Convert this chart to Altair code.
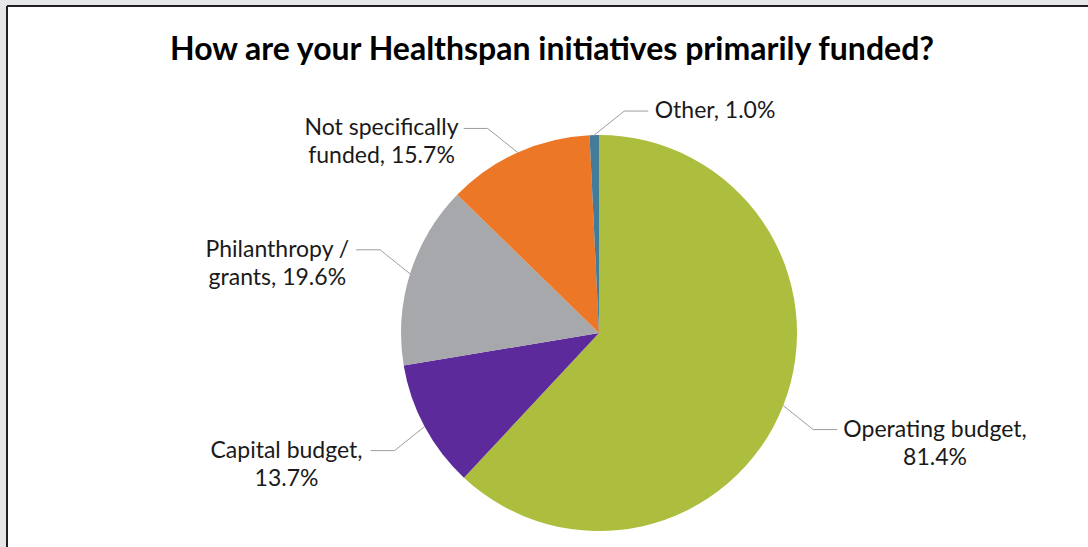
import math
import altair as alt
import pandas as pd

# ---------------- data ----------------
categories = ["Operating budget", "Capital budget", "Philanthropy / grants",
              "Not specifically funded", "Other"]
values = [81.4, 13.7, 19.6, 15.7, 1.0]
label_lines = [["Operating budget,", "81.4%"], ["Capital budget,", "13.7%"],
               ["Philanthropy /", "grants, 19.6%"], ["Not specifically", "funded, 15.7%"],
               ["Other, 1.0%"]]
colors = ["#adbd3d", "#5d2a9b", "#a7a8ab", "#ec7726", "#447b98"]
title_text = "How are your Healthspan initiatives primarily funded?"

# ---------------- layout / style ----------------
W, H = 1081, 541
CX, CY, R = 592, 327, 198
FONT = "Lato"
LABEL_SIZE = 23
LINE_H = 28
LEAD_DX, LEAD_DY, LEAD_H, GAP = 30, 24, 24, 8


def text_width(s, size):
    w = {' ': 0.26, ',': 0.23, '.': 0.23, '/': 0.36, '%': 0.80, 'i': 0.23, 'l': 0.23,
         'j': 0.23, 'f': 0.32, 't': 0.34, 'r': 0.35, 'm': 0.83, 'w': 0.75, 'y': 0.48,
         'c': 0.45, 's': 0.41}
    tot = 0.0
    for c in s:
        if c in w:
            tot += w[c]
        elif c.isdigit():
            tot += 0.58
        elif c.isupper():
            tot += 0.66
        else:
            tot += 0.54
    return tot * size


pie_df = pd.DataFrame({"category": categories, "value": values,
                       "idx": list(range(len(values)))})

total = sum(values)
line_rows, text_rows = [], []
cum = 0.0
for cat, v, lines in zip(categories, values, label_lines):
    mid = 2 * math.pi * (cum + v / 2) / total
    cum += v
    s, c = math.sin(mid), math.cos(mid)
    sx = 1 if s > -0.1 else -1
    sy = 1 if c < 0 else -1
    x0, y0 = CX + R * s, CY - R * c
    x1, y1 = x0 + sx * LEAD_DX, y0 + sy * LEAD_DY
    x2, y2 = x1 + sx * LEAD_H, y1
    for k, (px, py) in enumerate([(x0, y0), (x1, y1), (x2, y2)]):
        line_rows.append({"category": cat, "pt": k, "x": px, "y": py})
    bw = max(text_width(t, LABEL_SIZE) for t in lines)
    bx = x2 + sx * (GAP + bw / 2)
    for i, t in enumerate(lines):
        text_rows.append({"category": cat, "t": t, "x": bx, "y": y2 + i * LINE_H})

line_df = pd.DataFrame(line_rows)
text_df = pd.DataFrame(text_rows)

pie = alt.Chart(pie_df).mark_arc(radius=R).encode(
    theta=alt.Theta("value:Q", stack=True),
    color=alt.Color("category:N", scale=alt.Scale(domain=categories, range=colors), legend=None),
    order=alt.Order("idx:Q"),
    x=alt.value(CX),
    y=alt.value(CY),
)

leaders = alt.Chart(line_df).mark_line(color="#9d9d9d", strokeWidth=1).encode(
    x=alt.X("x:Q", scale=None, axis=None),
    y=alt.Y("y:Q", scale=None, axis=None),
    detail="category:N",
    order="pt:Q",
)

labels = alt.Chart(text_df).mark_text(
    font=FONT, fontSize=LABEL_SIZE, color="#1a1a1a", align="center", baseline="middle"
).encode(
    x=alt.X("x:Q", scale=None, axis=None),
    y=alt.Y("y:Q", scale=None, axis=None),
    text="t:N",
)

title = alt.Chart(pd.DataFrame({"t": [title_text]})).mark_text(
    font=FONT, fontSize=32, fontWeight="bold", color="#000000", align="center",
    baseline="alphabetic"
).encode(text="t:N", x=alt.value(545), y=alt.value(54))

frame_df = pd.DataFrame({"a": [0]})
left_rule = alt.Chart(frame_df).mark_rule(color="#231f20", strokeWidth=2).encode(
    x=alt.value(0), y=alt.value(0), y2=alt.value(H))
top_rule = alt.Chart(frame_df).mark_rule(color="#231f20", strokeWidth=2).encode(
    y=alt.value(0), x=alt.value(0), x2=alt.value(W))

chart = alt.layer(pie, leaders, labels, title, left_rule, top_rule).properties(
    width=W, height=H, autosize="none",
    padding={"left": 7, "top": 6, "right": 0, "bottom": 0},
    background="#e6e7e8",
).configure_view(fill="#ffffff", strokeWidth=0)

chart.save("out.html", embed_options={"renderer": "svg", "actions": False})
